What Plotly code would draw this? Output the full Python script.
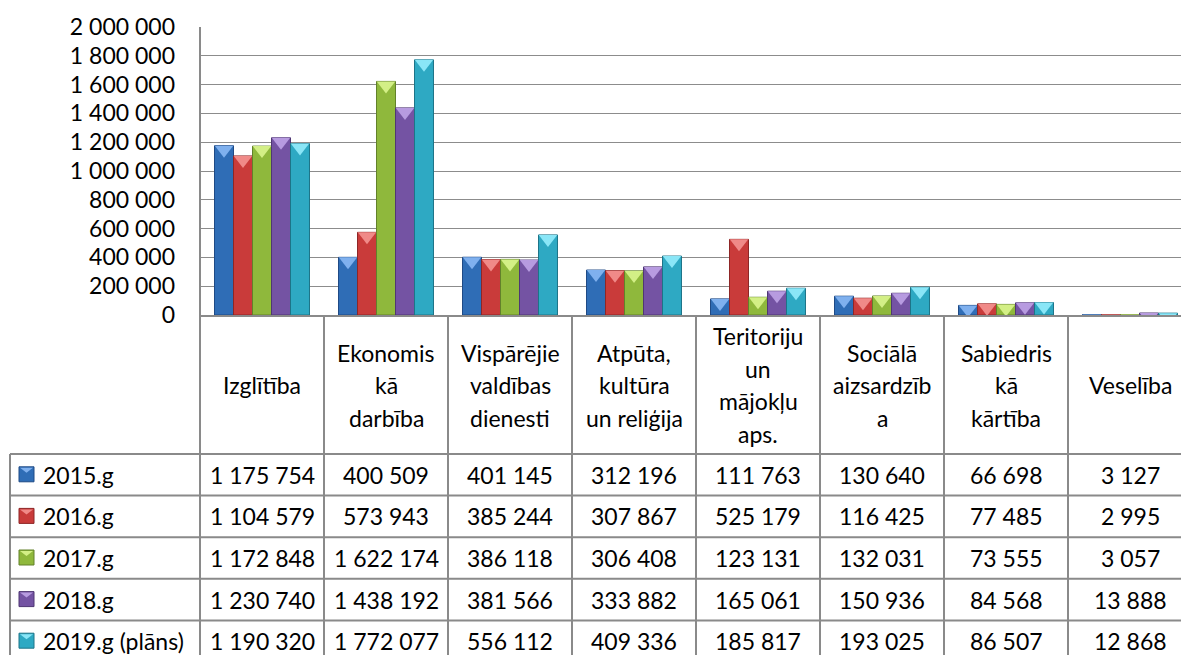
import plotly.graph_objects as go

# ---------------- data ----------------
header_labels = [
    "Izglītība",
    "Ekonomis<br>kā<br>darbība",
    "Vispārējie<br>valdības<br>dienesti",
    "Atpūta,<br>kultūra<br>un reliģija",
    "Teritoriju<br>un<br>mājokļu<br>aps.",
    "Sociālā<br>aizsardzīb<br>a",
    "Sabiedris<br>kā<br>kārtība",
    "Veselība",
]
series_names = ["2015.g", "2016.g", "2017.g", "2018.g", "2019.g (plāns)"]
v2015 = [1175754, 400509, 401145, 312196, 111763, 130640, 66698, 3127]
v2016 = [1104579, 573943, 385244, 307867, 525179, 116425, 77485, 2995]
v2017 = [1172848, 1622174, 386118, 306408, 123131, 132031, 73555, 3057]
v2018 = [1230740, 1438192, 381566, 333882, 165061, 150936, 84568, 13888]
v2019 = [1190320, 1772077, 556112, 409336, 185817, 193025, 86507, 12868]
series_values = [v2015, v2016, v2017, v2018, v2019]
tick_values = [0, 200000, 400000, 600000, 800000, 1000000, 1200000,
               1400000, 1600000, 1800000, 2000000]


def fmt(v):
    return f"{v:,}".replace(",", " ")


tick_labels = [fmt(t) for t in tick_values]

# ---------------- styling ----------------
W, H = 1181, 655
PL, PT, PZ = 200, 27, 315          # plot left, plot top, zero line (px)
CAT_W = 124                        # category width (px)
PW = W - PL
PH = PZ - PT
Y_MAX = 2000000
x_max = -0.5 + PW / CAT_W
FONT = "Lato, Calibri, sans-serif"
FS = 23
GRID = "#8c8c8c"
TLINE = "#8a8a8a"

colors = ["#2f6db6", "#c93b3a", "#8fb83c", "#7453a3", "#2ea9c3"]
edges = ["#1f4a85", "#8e2626", "#62812a", "#4f3773", "#1d7488"]
tips = ["#7fb0ee", "#f08a88", "#d3ef86", "#b79be0", "#8ae6f7"]

BARGAP = 0.234
TIP_SIZE = 16
HEADER_LINE_GAP = 32.5


def pxx(px):
    return (px - PL) / PW


def pxy(py):
    return (PZ - py) / PH


fig = go.Figure()
n = len(header_labels)
xs = list(range(n))

for k, (name, vals) in enumerate(zip(series_names, series_values)):
    fig.add_trace(go.Bar(
        x=xs, y=vals, name=name,
        marker=dict(color=colors[k], line=dict(color=edges[k], width=1)),
        showlegend=False,
    ))

# bevel tips at bar tops
offset = (TIP_SIZE / 4) * Y_MAX / PH
for k, vals in enumerate(series_values):
    fig.add_trace(go.Scatter(
        x=xs, y=[v - offset for v in vals], mode="markers",
        marker=dict(symbol="triangle-down", size=TIP_SIZE, color=tips[k],
                    line=dict(width=0)),
        showlegend=False, hoverinfo="skip", cliponaxis=True,
    ))

shapes = []
annotations = []

# table geometry (px)
HEADER_BOTTOM = 454
HEADER_MID = 385
ROW_H = 41.6
row_lines = [HEADER_BOTTOM + ROW_H * i for i in range(6)]
BOTTOM = 700

# horizontal table lines
for py in row_lines:
    shapes.append(dict(type="line", xref="paper", yref="paper",
                       x0=pxx(10), x1=1, y0=pxy(py), y1=pxy(py),
                       line=dict(color=TLINE, width=2)))
# left border of legend column
shapes.append(dict(type="line", xref="paper", yref="paper",
                   x0=pxx(10), x1=pxx(10), y0=pxy(HEADER_BOTTOM), y1=pxy(BOTTOM),
                   line=dict(color=TLINE, width=2)))
# left border of data columns (continuation of y axis)
shapes.append(dict(type="line", xref="paper", yref="paper",
                   x0=0, x1=0, y0=1, y1=pxy(BOTTOM),
                   line=dict(color=TLINE, width=2)))
# category boundaries
for i in range(1, n):
    shapes.append(dict(type="line", xref="x", yref="paper",
                       x0=i - 0.5, x1=i - 0.5, y0=0, y1=pxy(BOTTOM),
                       line=dict(color=TLINE, width=2)))

# header labels, one annotation per line
for i, lab in enumerate(header_labels):
    lines = lab.split("<br>")
    m = len(lines)
    for j, line in enumerate(lines):
        cy = HEADER_MID + (j - (m - 1) / 2) * HEADER_LINE_GAP
        annotations.append(dict(x=i, y=pxy(cy), xref="x", yref="paper",
                                text=line, showarrow=False, xanchor="center",
                                yanchor="middle", align="center",
                                font=dict(family=FONT, size=FS, color="black")))

# data rows with legend keys
for k, (name, vals) in enumerate(zip(series_names, series_values)):
    cy = row_lines[k] + ROW_H / 2
    kx0, kx1, ky0, ky1 = 19, 34, cy - 8, cy + 7
    shapes.append(dict(type="rect", xref="paper", yref="paper",
                       x0=pxx(kx0), x1=pxx(kx1), y0=pxy(ky1), y1=pxy(ky0),
                       fillcolor=colors[k], line=dict(color=edges[k], width=1)))
    # bevel tip on the key
    path = (f"M {pxx(kx0 + 1)} {pxy(ky0 + 1)} L {pxx(kx1 - 1)} {pxy(ky0 + 1)} "
            f"L {pxx((kx0 + kx1) / 2)} {pxy(ky0 + 6)} Z")
    shapes.append(dict(type="path", xref="paper", yref="paper", path=path,
                       fillcolor=tips[k], line=dict(width=0)))
    annotations.append(dict(x=pxx(41), y=pxy(cy), xref="paper", yref="paper",
                            text=name, showarrow=False, xanchor="left",
                            yanchor="middle",
                            font=dict(family=FONT, size=FS, color="black")))
    for i, v in enumerate(vals):
        annotations.append(dict(x=i, y=pxy(cy), xref="x", yref="paper",
                                text=fmt(v), showarrow=False, xanchor="center",
                                yanchor="middle",
                                font=dict(family=FONT, size=FS, color="black")))

fig.update_layout(
    width=W, height=H,
    margin=dict(l=PL, r=0, t=PT, b=H - PZ, pad=0),
    paper_bgcolor="white", plot_bgcolor="white",
    barmode="group", bargap=BARGAP, bargroupgap=0,
    scattermode="group", scattergap=BARGAP,
    showlegend=False,
    shapes=shapes, annotations=annotations,
    xaxis=dict(range=[-0.5, x_max], showticklabels=False, showgrid=False,
               zeroline=False, showline=True, linecolor=TLINE, linewidth=2,
               ticks="", fixedrange=True),
    yaxis=dict(range=[0, Y_MAX], tickvals=tick_values, ticktext=tick_labels,
               showgrid=True, gridcolor=GRID, gridwidth=1.3,
               zeroline=False, showline=False, ticks="",
               ticklabelstandoff=24,
               tickfont=dict(family=FONT, size=FS, color="black"),
               fixedrange=True),
)

fig.write_html(
    "out.html",
    config={"displayModeBar": False},
    post_script="document.body.style.margin='0';document.body.style.overflow='hidden';",
)
